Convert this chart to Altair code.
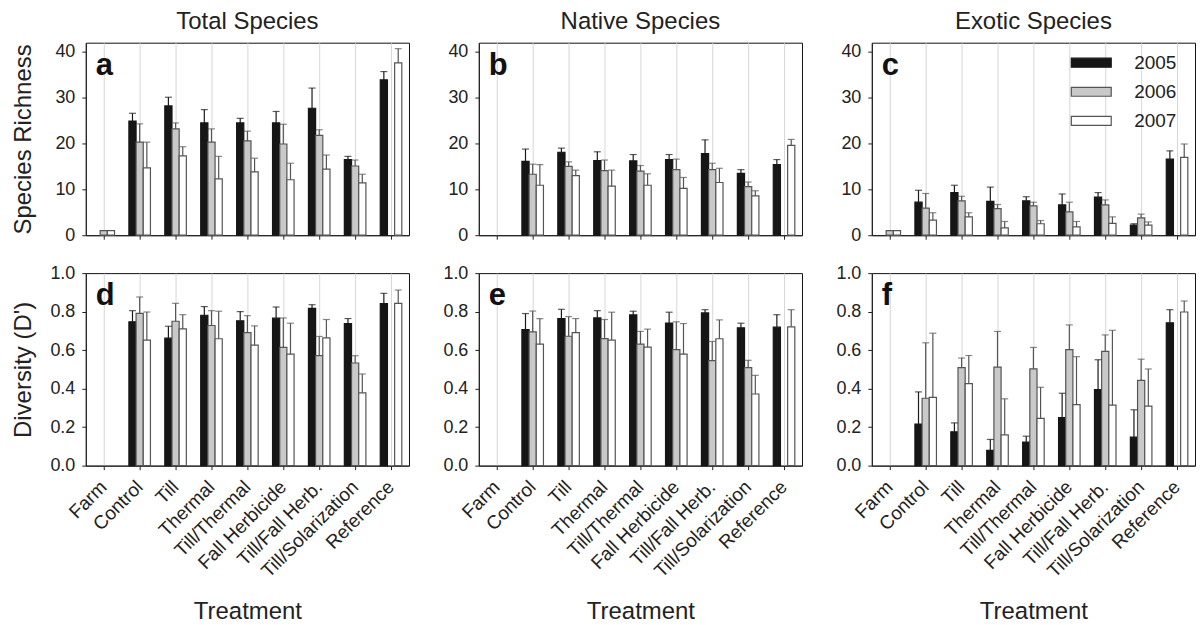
import altair as alt
import pandas as pd

FONT = "Liberation Sans"

treatments = ["Farm", "Control", "Till", "Thermal", "Till/Thermal",
              "Fall Herbicide", "Till/Fall Herb.", "Till/Solarization", "Reference"]
years = ["2005", "2006", "2007"]

# ---- (a) Total species richness: means and upper error values ----
a_2005 = [None, 24.9, 28.2, 24.5, 24.5, 24.5, 27.7, 16.5, 33.9]
a_2005_top = [None, 26.6, 30.1, 27.4, 25.5, 27.0, 32.1, 17.2, 35.7]
a_2006 = [1.0, 20.3, 23.2, 20.3, 20.6, 19.9, 21.8, 15.1, None]
a_2006_top = [None, 24.3, 24.5, 23.2, 22.7, 24.2, 23.0, 16.4, None]
a_2007 = [1.0, 14.7, 17.3, 12.3, 13.8, 12.1, 14.4, 11.4, 37.6]
a_2007_top = [None, 20.3, 19.3, 17.2, 16.8, 15.7, 17.5, 13.3, 40.7]

# ---- (b) Native species richness ----
b_2005 = [None, 16.1, 18.1, 16.3, 16.2, 16.5, 17.8, 13.5, 15.4]
b_2005_top = [None, 18.8, 19.0, 18.2, 17.6, 17.6, 20.8, 14.3, 16.5]
b_2006 = [None, 13.3, 15.0, 14.1, 14.0, 14.3, 14.3, 10.6, None]
b_2006_top = [None, 15.5, 16.0, 16.4, 15.2, 16.6, 15.7, 11.6, None]
b_2007 = [None, 10.9, 13.0, 10.7, 10.9, 10.2, 11.5, 8.6, 19.6]
b_2007_top = [None, 15.4, 14.2, 14.2, 13.4, 12.6, 14.6, 9.7, 20.9]

# ---- (c) Exotic species richness ----
c_2005 = [None, 7.2, 9.3, 7.4, 7.5, 6.6, 8.3, 2.2, 16.6]
c_2005_top = [None, 9.8, 10.9, 10.5, 8.4, 9.0, 9.3, 2.5, 18.4]
c_2006 = [1.0, 5.9, 7.5, 5.8, 6.4, 5.1, 6.6, 3.8, None]
c_2006_top = [None, 9.1, 8.5, 6.7, 7.2, 7.2, 7.7, 4.6, None]
c_2007 = [1.0, 3.3, 4.0, 1.6, 2.5, 1.8, 2.6, 2.2, 17.0]
c_2007_top = [None, 4.9, 4.9, 3.0, 3.2, 3.0, 4.0, 2.9, 19.9]

# ---- (d) Total diversity ----
d_2005 = [None, 0.747, 0.662, 0.781, 0.752, 0.766, 0.817, 0.738, 0.841]
d_2005_top = [None, 0.805, 0.724, 0.826, 0.800, 0.824, 0.836, 0.764, 0.895]
d_2006 = [None, 0.791, 0.750, 0.728, 0.691, 0.614, 0.571, 0.533, None]
d_2006_top = [None, 0.876, 0.843, 0.805, 0.779, 0.767, 0.671, 0.571, None]
d_2007 = [None, 0.652, 0.710, 0.659, 0.626, 0.579, 0.664, 0.378, 0.843]
d_2007_top = [None, 0.798, 0.784, 0.802, 0.726, 0.740, 0.759, 0.476, 0.912]

# ---- (e) Native diversity ----
e_2005 = [None, 0.707, 0.764, 0.767, 0.783, 0.741, 0.793, 0.716, 0.719]
e_2005_top = [None, 0.790, 0.812, 0.805, 0.802, 0.797, 0.810, 0.740, 0.784]
e_2006 = [None, 0.695, 0.672, 0.660, 0.631, 0.603, 0.545, 0.509, None]
e_2006_top = [None, 0.803, 0.774, 0.759, 0.697, 0.747, 0.645, 0.547, None]
e_2007 = [None, 0.631, 0.691, 0.652, 0.616, 0.579, 0.659, 0.372, 0.721]
e_2007_top = [None, 0.764, 0.764, 0.797, 0.709, 0.738, 0.757, 0.469, 0.810]

# ---- (f) Exotic diversity ----
f_2005 = [None, 0.216, 0.176, 0.079, 0.122, 0.250, 0.395, 0.148, 0.742]
f_2005_top = [None, 0.383, 0.222, 0.136, 0.153, 0.376, 0.550, 0.290, 0.810]
f_2006 = [None, 0.350, 0.509, 0.512, 0.503, 0.603, 0.593, 0.443, None]
f_2006_top = [None, 0.638, 0.559, 0.697, 0.614, 0.731, 0.679, 0.553, None]
f_2007 = [None, 0.355, 0.426, 0.160, 0.245, 0.317, 0.314, 0.309, 0.798]
f_2007_top = [None, 0.688, 0.572, 0.347, 0.407, 0.566, 0.703, 0.502, 0.855]

fill_colors = ["#161616", "#c9c9c9", "#ffffff"]
stroke_colors = ["#161616", "#555555", "#555555"]


def table(means, tops):
    rows = []
    for yr, ms, ts in zip(years, means, tops):
        for tr, m, t in zip(treatments, ms, ts):
            if m is None:
                continue
            rows.append({"treatment": tr, "year": yr, "value": m, "top": t})
    return pd.DataFrame(rows)


def panel(df, letter, ymax, yvalues, yfmt, col_title=None, ytitle=None,
          xlabels=False, legend=False):
    xscale = alt.Scale(domain=treatments, paddingInner=0.4, paddingOuter=0.2)
    xaxis = alt.Axis(
        title="Treatment" if xlabels else None,
        labels=xlabels, labelAngle=-45, labelAlign="right", labelBaseline="middle",
        labelPadding=14, labelFontSize=19,
        grid=True, gridColor="#d6d6d6", gridWidth=1, bandPosition=0.5,
        ticks=True, tickSize=4, titlePadding=19,
    )
    x = alt.X("treatment:N", sort=treatments, scale=xscale, axis=xaxis)
    xoff = alt.XOffset("year:N", scale=alt.Scale(domain=years, paddingInner=0, paddingOuter=0))
    yscale = alt.Scale(domain=[0, ymax], nice=False, zero=True)
    yaxis = alt.Axis(values=yvalues, format=yfmt, title=ytitle if ytitle else "", grid=False,
                     tickSize=4, labelPadding=7, minExtent=38, maxExtent=38,
                     titlePadding=12)
    if legend:
        leg = alt.Legend(title=None, orient="none", legendX=209, legendY=9,
                         symbolType="M-2,-0.45H2V0.45H-2Z", symbolSize=400,
                         symbolStrokeWidth=1.2, labelFont=FONT, labelFontSize=19,
                         labelColor="#222222", labelOffset=32, rowPadding=8.2,
                         padding=0)
    else:
        leg = None
    fill = alt.Fill("year:N", scale=alt.Scale(domain=years, range=fill_colors), legend=leg)
    stroke = alt.Stroke("year:N", scale=alt.Scale(domain=years, range=stroke_colors), legend=leg)
    errcolor = alt.condition("datum.year == '2005'", alt.value("#1a1a1a"), alt.value("#555555"))

    base = alt.Chart(df)
    bars = base.mark_bar(strokeWidth=1.2).encode(
        x=x, xOffset=xoff,
        y=alt.Y("value:Q", scale=yscale, axis=yaxis),
        fill=fill, stroke=stroke,
    )
    errs = base.transform_filter("isValid(datum.top)").mark_rule(strokeWidth=1.2).encode(
        x=x, xOffset=xoff,
        y=alt.Y("value:Q", scale=yscale, axis=yaxis),
        y2="top:Q",
        color=errcolor,
    )
    caps = base.transform_filter("isValid(datum.top)").mark_tick(
        size=7, thickness=1.2, orient="horizontal").encode(
        x=x, xOffset=xoff,
        y=alt.Y("top:Q", scale=yscale, axis=yaxis),
        color=errcolor,
    )
    lab = alt.Chart(pd.DataFrame({"letter": [letter]})).mark_text(
        font=FONT, fontSize=31, fontWeight="bold", align="left",
        baseline="alphabetic", color="#111111").encode(
        text="letter:N", x=alt.value(10), y=alt.value(32))
    ch = alt.layer(bars, errs, caps, lab).properties(width=324, height=193)
    if col_title:
        ch = ch.properties(title=alt.TitleParams(text=col_title, font=FONT, fontSize=24,
                                                 fontWeight="normal", color="#222222",
                                                 offset=9, anchor="middle"))
    return ch


rich_vals = [0, 10, 20, 30, 40]
div_vals = [0, 0.2, 0.4, 0.6, 0.8, 1.0]

pa = panel(table([a_2005, a_2006, a_2007], [a_2005_top, a_2006_top, a_2007_top]), "a",
           42, rich_vals, "d", col_title="Total Species", ytitle="Species Richness")
pb = panel(table([b_2005, b_2006, b_2007], [b_2005_top, b_2006_top, b_2007_top]), "b",
           42, rich_vals, "d", col_title="Native Species")
pc = panel(table([c_2005, c_2006, c_2007], [c_2005_top, c_2006_top, c_2007_top]), "c",
           42, rich_vals, "d", col_title="Exotic Species", legend=True)
pd_ = panel(table([d_2005, d_2006, d_2007], [d_2005_top, d_2006_top, d_2007_top]), "d",
            1.0, div_vals, ".1f", ytitle="Diversity (D')", xlabels=True)
pe = panel(table([e_2005, e_2006, e_2007], [e_2005_top, e_2006_top, e_2007_top]), "e",
           1.0, div_vals, ".1f", xlabels=True)
pf = panel(table([f_2005, f_2006, f_2007], [f_2005_top, f_2006_top, f_2007_top]), "f",
           1.0, div_vals, ".1f", xlabels=True)

chart = alt.concat(pa, pb, pc, pd_, pe, pf, columns=3,
                   spacing={"row": 38, "column": 70}, bounds="flush").resolve_scale(
    fill="independent", stroke="independent"
).properties(
    padding={"left": 3, "top": 0, "right": 0, "bottom": 2}
).configure_view(
    stroke="#111111", strokeWidth=1
).configure_axis(
    labelFont=FONT, labelFontSize=18, labelColor="#222222",
    titleFont=FONT, titleFontSize=24, titleFontWeight="normal", titleColor="#222222",
    tickColor="#222222", domainColor="#222222", domainWidth=1,
)

chart.save("out.html", embed_options={"renderer": "svg", "actions": False})
